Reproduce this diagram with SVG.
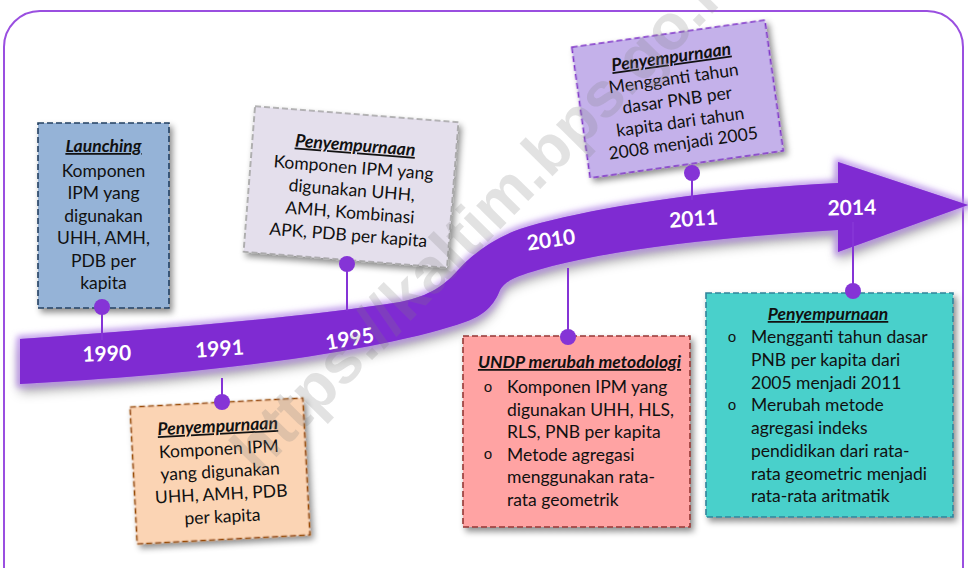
<svg xmlns="http://www.w3.org/2000/svg" width="968" height="568" viewBox="0 0 968 568">
<defs>
<style>
.t{font-family:Lato,"Open Sans","Liberation Sans",sans-serif;font-size:17.5px;fill:#111;}
.c{text-anchor:middle;}
.h{font-weight:bold;font-style:italic;text-decoration:underline;}
.b{font-family:"Liberation Mono",monospace;font-size:15px;fill:#111;text-anchor:middle;}
.yr{font-family:Lato,"Open Sans","Liberation Sans",sans-serif;font-weight:bold;font-size:21px;fill:#fff;text-anchor:middle;}
.box{stroke-width:1.6;stroke-dasharray:6 3;filter:url(#sh);}
.ln{stroke:#8534d6;stroke-width:2;fill:none;}
.dot{fill:#8534d6;}
</style>
<filter id="sh" x="-20%" y="-20%" width="140%" height="140%">
<feDropShadow dx="3" dy="4" stdDeviation="3" flood-color="#000" flood-opacity="0.45"/>
</filter>
<filter id="bsh" x="-10%" y="-30%" width="120%" height="160%">
<feDropShadow dx="0" dy="8" stdDeviation="6" flood-color="#000" flood-opacity="0.35"/>
</filter>
<filter id="glow" x="-10%" y="-30%" width="120%" height="160%">
<feGaussianBlur stdDeviation="3"/>
</filter>
</defs>
<rect width="968" height="568" fill="#fff"/>
<rect x="4" y="11" width="959" height="600" rx="36" fill="none" stroke="#9a4fe0" stroke-width="2"/>

<g id="band">
<path id="bandpath" d="M20,339 C150,330 300,318 400,302 C430,296 445,285 460,268 C475,252 495,238 520,229 C580,210 700,190 838,183 L838,162 L968,205 L838,252 L838,230 C720,237 610,250 545,268 C520,275 505,280 500,290 C494,305 485,315 465,322 C400,345 250,372 20,384 Z" fill="#7f2bd2" filter="url(#bsh)"/>
<path d="M20,339 C150,330 300,318 400,302 C430,296 445,285 460,268 C475,252 495,238 520,229 C580,210 700,190 838,183 L838,162 L968,205 L838,252 L838,230 C720,237 610,250 545,268 C520,275 505,280 500,290 C494,305 485,315 465,322 C400,345 250,372 20,384 Z" fill="none" stroke="#b78de9" stroke-width="6" filter="url(#glow)"/>
<path d="M20,339 C150,330 300,318 400,302 C430,296 445,285 460,268 C475,252 495,238 520,229 C580,210 700,190 838,183 L838,162 L968,205 L838,252 L838,230 C720,237 610,250 545,268 C520,275 505,280 500,290 C494,305 485,315 465,322 C400,345 250,372 20,384 Z" fill="#7f2bd2"/>
<text class="yr" transform="translate(107,361) rotate(-2)">1990</text>
<text class="yr" transform="translate(220,356) rotate(-4)">1991</text>
<text class="yr" transform="translate(351,346) rotate(-10)">1995</text>
<text class="yr" transform="translate(552,247) rotate(-8)">2010</text>
<text class="yr" transform="translate(694,226) rotate(-4)">2011</text>
<text class="yr" transform="translate(852,215) rotate(-1)">2014</text>
</g>

<g id="box1990">
<rect class="box" x="38" y="123" width="131" height="185" fill="#95b3d7" stroke="#244061"/>
<text class="t c h" x="103.5" y="152">Launching</text>
<text class="t c" x="103.5" y="176.5">Komponen</text>
<text class="t c" x="103.5" y="199">IPM yang</text>
<text class="t c" x="103.5" y="221.5">digunakan</text>
<text class="t c" x="103.5" y="244">UHH, AMH,</text>
<text class="t c" x="103.5" y="266.5">PDB per</text>
<text class="t c" x="103.5" y="289">kapita</text>
</g>

<g id="box1991" transform="translate(220,471) rotate(-3)">
<rect class="box" x="-86.5" y="-68.5" width="173" height="137" fill="#fbd4b4" stroke="#974806"/>
<text class="t c h" x="0" y="-39">Penyempurnaan</text>
<text class="t c" x="0" y="-16">Komponen IPM</text>
<text class="t c" x="0" y="6.5">yang digunakan</text>
<text class="t c" x="0" y="29">UHH, AMH, PDB</text>
<text class="t c" x="0" y="51.5">per kapita</text>
</g>

<g id="box1995" transform="translate(351,187) rotate(4.5)">
<rect class="box" x="-102" y="-73" width="204" height="146" fill="#e4dfec" stroke="#a0a0a0"/>
<text class="t c h" x="1" y="-36">Penyempurnaan</text>
<text class="t c" x="1" y="-13.5">Komponen IPM yang</text>
<text class="t c" x="1" y="9">digunakan UHH,</text>
<text class="t c" x="1" y="31.5">AMH, Kombinasi</text>
<text class="t c" x="1" y="54">APK, PDB per kapita</text>
</g>

<g id="box2010">
<rect class="box" x="463" y="336" width="227" height="191" fill="#ffa3a3" stroke="#953735"/>
<text class="t c h" x="579.5" y="368">UNDP merubah metodologi</text>
<text class="b" x="488" y="392">o</text>
<text class="t" x="507" y="393">Komponen IPM yang</text>
<text class="t" x="507" y="415.5">digunakan UHH, HLS,</text>
<text class="t" x="507" y="438">RLS, PNB per kapita</text>
<text class="b" x="488" y="459">o</text>
<text class="t" x="507" y="460.5">Metode agregasi</text>
<text class="t" x="507" y="483">menggunakan rata-</text>
<text class="t" x="507" y="505.5">rata geometrik</text>
</g>

<g id="box2011" transform="translate(677.5,99) rotate(-8)">
<rect class="box" x="-97.5" y="-66" width="195" height="132" fill="#c4b1ea" stroke="#7f32c8"/>
<text class="t c h" x="-0.5" y="-36.5">Penyempurnaan</text>
<text class="t c" x="-1" y="-15">Mengganti tahun</text>
<text class="t c" x="-0.5" y="7">dasar PNB per</text>
<text class="t c" x="-0.5" y="29">kapita dari tahun</text>
<text class="t c" x="-0.5" y="50.5">2008 menjadi 2005</text>
</g>

<g id="box2014">
<rect class="box" x="706" y="293" width="247" height="224" fill="#4ad0cb" stroke="#31849b"/>
<text class="t c h" x="828" y="320">Penyempurnaan</text>
<text class="b" x="732" y="342">o</text>
<text class="t" x="751" y="343">Mengganti tahun dasar</text>
<text class="t" x="751" y="366">PNB per kapita dari</text>
<text class="t" x="751" y="388.5">2005 menjadi 2011</text>
<text class="b" x="732" y="410">o</text>
<text class="t" x="751" y="411">Merubah metode</text>
<text class="t" x="751" y="434">agregasi indeks</text>
<text class="t" x="751" y="457">pendidikan dari rata-</text>
<text class="t" x="751" y="479.5">rata geometric menjadi</text>
<text class="t" x="751" y="502">rata-rata aritmatik</text>
</g>

<g id="connectors">
<line class="ln" x1="102" y1="307" x2="102" y2="340"/>
<circle class="dot" cx="102" cy="307" r="8"/>
<line class="ln" x1="222" y1="378" x2="222" y2="402"/>
<circle class="dot" cx="222" cy="402" r="8"/>
<line class="ln" x1="347" y1="264" x2="347" y2="311"/>
<circle class="dot" cx="347" cy="264" r="8"/>
<line class="ln" x1="568" y1="268" x2="568" y2="337"/>
<circle class="dot" cx="568" cy="337" r="8"/>
<line class="ln" x1="692" y1="173" x2="692" y2="200"/>
<circle class="dot" cx="692" cy="173" r="8"/>
<line class="ln" x1="853" y1="222" x2="853" y2="291"/>
<circle class="dot" cx="853" cy="291" r="8"/>
</g>

<text id="watermark" transform="translate(258,476) rotate(-45.5)" font-family="'Liberation Sans',Arial,sans-serif" font-weight="bold" font-size="64" fill="#808080" opacity="0.22">https://kaltim.bps.go.id</text>
</svg>
